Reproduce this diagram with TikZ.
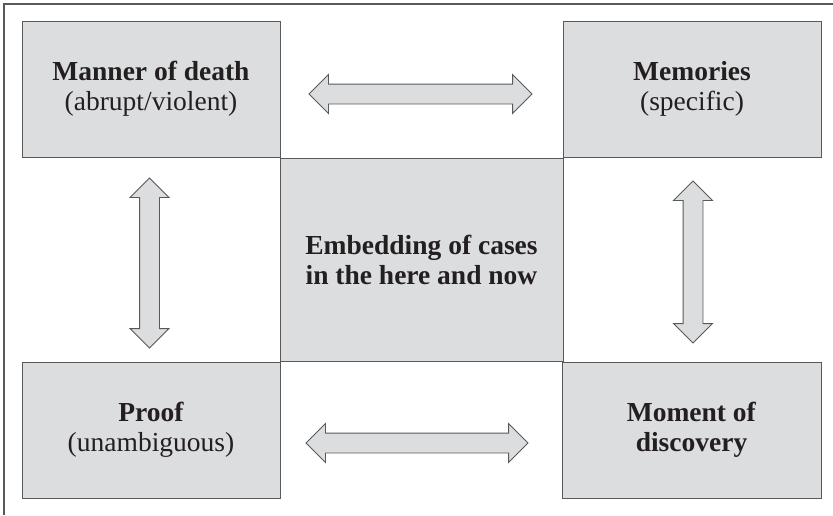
\documentclass[tikz,border=0pt]{standalone}
\usepackage{fontspec}
\setmainfont{Liberation Serif}
\usetikzlibrary{shapes.arrows}
\definecolor{boxfill}{HTML}{DCDDDF}
\definecolor{edgecol}{HTML}{58595B}
\definecolor{ink}{HTML}{231F20}
\tikzset{
  box/.style={draw=edgecol, fill=boxfill, line width=1pt, inner sep=0pt,
    align=center, text=ink, font=\fontsize{27.5}{30}\selectfont},
  darrow/.style={shape=double arrow, draw=edgecol, fill=boxfill, line width=0.9pt,
    inner sep=9.5pt, minimum width=38pt, double arrow head extend=9.5pt,
    double arrow tip angle=90},
}
\begin{document}
\begin{tikzpicture}[x=1pt,y=-1pt]
\useasboundingbox (0,0) rectangle (833,515);
\draw[edgecol, line width=1.2pt] (4,515) -- (4,4) -- (833,4);
\node[box, minimum width=258pt, minimum height=136pt] (mod) at (151,89)
  {\textbf{Manner of death}\\(abrupt/violent)};
\node[box, minimum width=258pt, minimum height=136pt] (mem) at (692,89)
  {\textbf{Memories}\\(specific)};
\node[box, minimum width=283pt, minimum height=203pt] (emb) at (421.5,259.5)
  {\textbf{Embedding of cases}\\\textbf{in the here and now}};
\node[box, minimum width=258pt, minimum height=136pt] (prf) at (151,430)
  {\textbf{Proof}\\(unambiguous)};
\node[box, minimum width=259pt, minimum height=136pt] (mdi) at (691.5,430)
  {\textbf{Moment of}\\\textbf{discovery}};
\node[darrow, minimum height=223pt] (atop) at (420.5,94) {};
\node[darrow, minimum height=222pt] (abot) at (417,443) {};
\node[darrow, minimum height=170pt, shape border rotate=90] (alft) at (149.5,263) {};
\node[darrow, minimum height=162pt, shape border rotate=90] (argt) at (693,262) {};
\end{tikzpicture}
\end{document}
